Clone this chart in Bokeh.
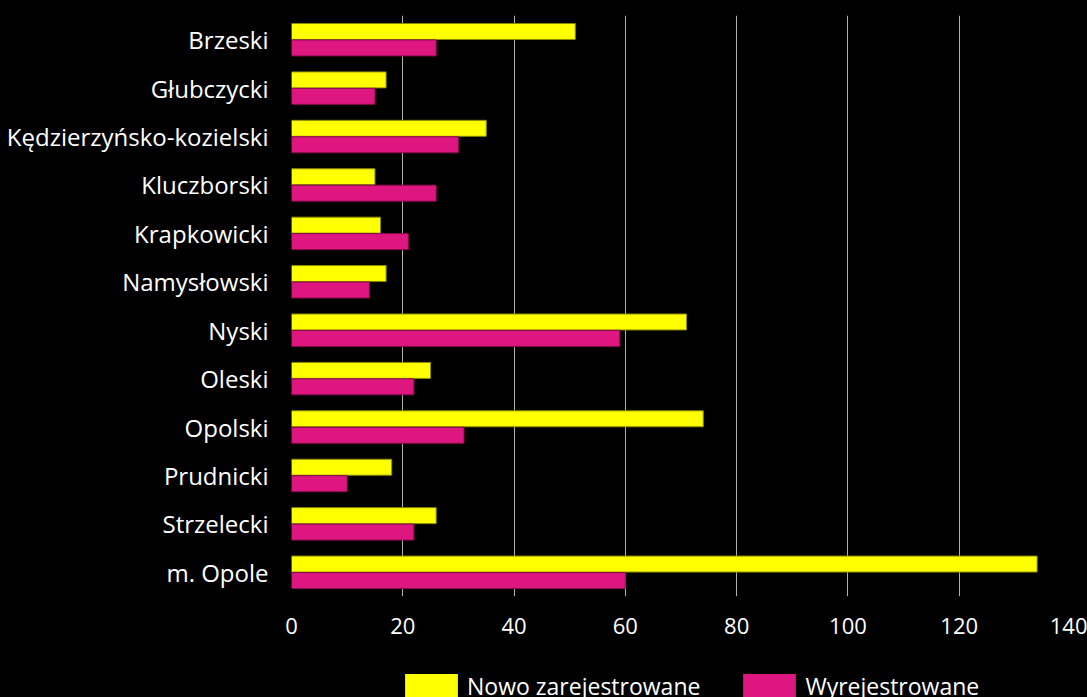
from bokeh.plotting import figure
from bokeh.layouts import column
from bokeh.models import FactorRange, Range1d, Legend, LegendItem, ColumnDataSource
from bokeh.transform import dodge
from bokeh.embed import file_html
from bokeh.resources import INLINE

categories = ["Brzeski", "Głubczycki", "Kędzierzyńsko-kozielski", "Kluczborski",
              "Krapkowicki", "Namysłowski", "Nyski", "Oleski", "Opolski",
              "Prudnicki", "Strzelecki", "m. Opole"]
nowo = [51, 17, 35, 15, 16, 17, 71, 25, 74, 18, 26, 134]
wyrej = [26, 15, 30, 26, 21, 14, 59, 22, 31, 10, 22, 60]
series_names = ["Nowo zarejestrowane", "Wyrejestrowane"]
x_ticks = [0, 20, 40, 60, 80, 100, 120, 140]

YELLOW = "#FFFF00"
PINK = "#DE1680"
YELLOW_EDGE = "#8a8a00"
PINK_EDGE = "#8a0c4c"
FONT = "Open Sans"

src = ColumnDataSource(dict(cat=categories, nowo=nowo, wyrej=wyrej))

p = figure(width=1087, height=674, output_backend="svg", toolbar_location=None,
           y_range=FactorRange(factors=list(reversed(categories))),
           x_range=Range1d(0, 140),
           min_border_left=291, min_border_right=17, min_border_top=15, min_border_bottom=78)
p.background_fill_color = "black"
p.border_fill_color = "black"
p.outline_line_color = None

p.hbar(y=dodge("cat", 0.17, range=p.y_range), right="nowo", left=0, height=0.33,
       source=src, fill_color=YELLOW, line_color=YELLOW_EDGE, line_width=1)
p.hbar(y=dodge("cat", -0.17, range=p.y_range), right="wyrej", left=0, height=0.33,
       source=src, fill_color=PINK, line_color=PINK_EDGE, line_width=1)

p.xaxis.ticker = x_ticks
p.xaxis.axis_line_color = None
p.xaxis.major_tick_line_color = None
p.xaxis.major_tick_out = 0
p.xaxis.minor_tick_line_color = None
p.xaxis.major_label_text_color = "white"
p.xaxis.major_label_text_font = FONT
p.xaxis.major_label_text_font_size = "22px"
p.xaxis.major_label_standoff = 21

p.yaxis.axis_line_color = None
p.yaxis.major_tick_line_color = None
p.yaxis.major_tick_out = 0
p.yaxis.minor_tick_line_color = None
p.yaxis.major_label_text_color = "white"
p.yaxis.major_label_text_font = FONT
p.yaxis.major_label_text_font_size = "24px"
p.yaxis.major_label_standoff = 23

p.ygrid.grid_line_color = None
p.xgrid.grid_line_color = "#b0b0b0"
p.xgrid.grid_line_width = 1

# legend strip below the chart (its frame is aligned with the chart frame)
p2 = figure(width=1087, height=23, output_backend="svg", toolbar_location=None,
            y_range=FactorRange(factors=list(reversed(categories))),
            x_range=Range1d(0, 140),
            x_axis_type=None, y_axis_type=None, min_border=0)
p2.background_fill_color = "black"
p2.border_fill_color = "black"
p2.outline_line_color = None
p2.grid.visible = False
l1 = p2.hbar(y="cat", right="nowo", left=0, height=0.33, source=src,
             fill_color=YELLOW, line_color=None, visible=False)
l2 = p2.hbar(y="cat", right="wyrej", left=0, height=0.33, source=src,
             fill_color=PINK, line_color=None, visible=False)

legend = Legend(items=[LegendItem(label=series_names[0], renderers=[l1]),
                       LegendItem(label=series_names[1], renderers=[l2])],
                orientation="horizontal", location=(107, -5),
                padding=0, margin=0, spacing=36, label_standoff=3,
                glyph_width=66, glyph_height=32,
                label_text_color="white", label_text_font=FONT,
                label_text_font_size="23px",
                background_fill_alpha=0, border_line_alpha=0)
p2.add_layout(legend, "center")

html = file_html(column(p, p2, spacing=0), INLINE)
html = html.replace("<head>", "<head><style>html,body{background:#000;overflow:hidden;margin:0;padding:0}</style>", 1)
open("out.html", "w").write(html)
